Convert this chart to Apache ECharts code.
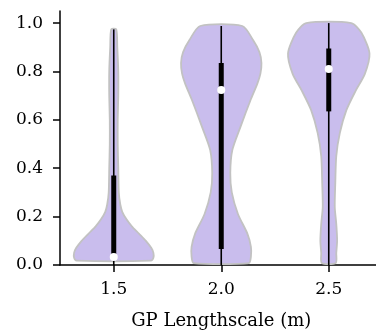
<!DOCTYPE html>
<html>
<head>
<meta charset="utf-8">
<script src="https://cdn.jsdelivr.net/npm/echarts@6/dist/echarts.min.js"></script>
<style>
  html, body { margin: 0; padding: 0; background: #fff; }
  #chart { width: 376px; height: 333px; }
</style>
</head>
<body>
<div id="chart"></div>
<script>
// categories on the x axis
var categories = ['1.5', '2.0', '2.5'];
var yTicks = [0, 0.2, 0.4, 0.6, 0.8, 1.0];

// violin outlines: [value, half width in category units], bottom to top
var profile15 = [
  [0.018, 0.346], [0.03, 0.369], [0.05, 0.369], [0.07, 0.350], [0.10, 0.299],
  [0.13, 0.234], [0.16, 0.168], [0.19, 0.117], [0.22, 0.079], [0.25, 0.061],
  [0.30, 0.047], [0.40, 0.042], [0.50, 0.037], [0.60, 0.037], [0.70, 0.042],
  [0.80, 0.042], [0.90, 0.033], [0.974, 0.023]
];
var profile20 = [
  [0.008, 0.257], [0.035, 0.276], [0.075, 0.276], [0.13, 0.243], [0.21, 0.156],
  [0.30, 0.098], [0.38, 0.084], [0.475, 0.103], [0.57, 0.178], [0.68, 0.271],
  [0.75, 0.336], [0.79, 0.364], [0.835, 0.374], [0.88, 0.355], [0.93, 0.296],
  [0.988, 0.196]
];
var profile25 = [
  [0.008, 0.065], [0.05, 0.070], [0.10, 0.078], [0.17, 0.070], [0.24, 0.056],
  [0.34, 0.061], [0.45, 0.070], [0.545, 0.103], [0.64, 0.164], [0.72, 0.250],
  [0.79, 0.336], [0.875, 0.379], [0.96, 0.304], [1.0, 0.210]
];
var profiles = [profile15, profile20, profile25];

// inner box stats
var whiskerLow = [0, 0, 0];
var whiskerHigh = [0.974, 0.988, 1.0];
var q1 = [0.03, 0.066, 0.635];
var median = [0.033, 0.723, 0.81];
var q3 = [0.37, 0.835, 0.895];

var chart = echarts.init(document.getElementById('chart'), null, { renderer: 'canvas' });
var font = 'DejaVu Serif';

function renderViolin(params, api) {
  var i = params.dataIndex;
  var prof = profiles[i];
  var band = api.size([1, 0])[0];
  var pts = [];
  for (var k = 0; k < prof.length; k++) {
    var p = api.coord([i, prof[k][0]]);
    pts.push([p[0] + prof[k][1] * band, p[1]]);
  }
  for (var k = prof.length - 1; k >= 0; k--) {
    var p = api.coord([i, prof[k][0]]);
    pts.push([p[0] - prof[k][1] * band, p[1]]);
  }
  var lo = api.coord([i, whiskerLow[i]]);
  var hi = api.coord([i, whiskerHigh[i]]);
  var b1 = api.coord([i, q1[i]]);
  var b3 = api.coord([i, q3[i]]);
  var md = api.coord([i, median[i]]);
  return {
    type: 'group',
    children: [
      {
        type: 'polygon',
        shape: { points: pts, smooth: 0.25 },
        style: { fill: 'rgb(201,189,237)', stroke: '#c2c2c2', lineWidth: 1.8 }
      },
      {
        type: 'line',
        shape: { x1: lo[0], y1: lo[1], x2: hi[0], y2: hi[1] },
        style: { stroke: '#000', lineWidth: 1.6 }
      },
      {
        type: 'rect',
        shape: { x: b3[0] - 2.5, y: b3[1], width: 5, height: b1[1] - b3[1] },
        style: { fill: '#000' }
      },
      {
        type: 'circle',
        shape: { cx: md[0], cy: md[1], r: 4 },
        style: { fill: '#fff' }
      }
    ]
  };
}

var option = {
  animation: false,
  backgroundColor: '#fff',
  // plot runs a little past the right edge, as in the cropped original
  grid: { left: 60, right: -6.5, top: 11, bottom: 68, outerBoundsMode: 'none' },
  xAxis: {
    type: 'category',
    data: categories,
    name: 'GP Lengthscale (m)',
    nameLocation: 'middle',
    nameGap: 47,
    nameTextStyle: { fontFamily: font, fontSize: 18, color: '#000' },
    splitLine: { show: false },
    axisLine: { onZero: false, lineStyle: { color: '#000', width: 1.5 } },
    axisTick: { show: true, alignWithLabel: true, length: 7, lineStyle: { color: '#000', width: 1.5 } },
    axisLabel: {
      margin: 16,
      fontFamily: font, fontSize: 17, color: '#000'
    }
  },
  yAxis: {
    type: 'value',
    min: 0,
    max: 1.05,
    interval: 0.2,
    splitLine: { show: false },
    axisLine: { show: true, onZero: false, lineStyle: { color: '#000', width: 1.5 } },
    axisTick: { show: true, length: 7, lineStyle: { color: '#000', width: 1.5 }, customValues: yTicks },
    axisLabel: {
      customValues: yTicks,
      margin: 17,
      fontFamily: font, fontSize: 17, color: '#000',
      formatter: function (v) { return v.toFixed(1); }
    }
  },
  series: [{
    type: 'custom',
    renderItem: renderViolin,
    data: [0, 1, 2],
    z: 3
  }]
};

chart.setOption(option);
</script>
</body>
</html>
